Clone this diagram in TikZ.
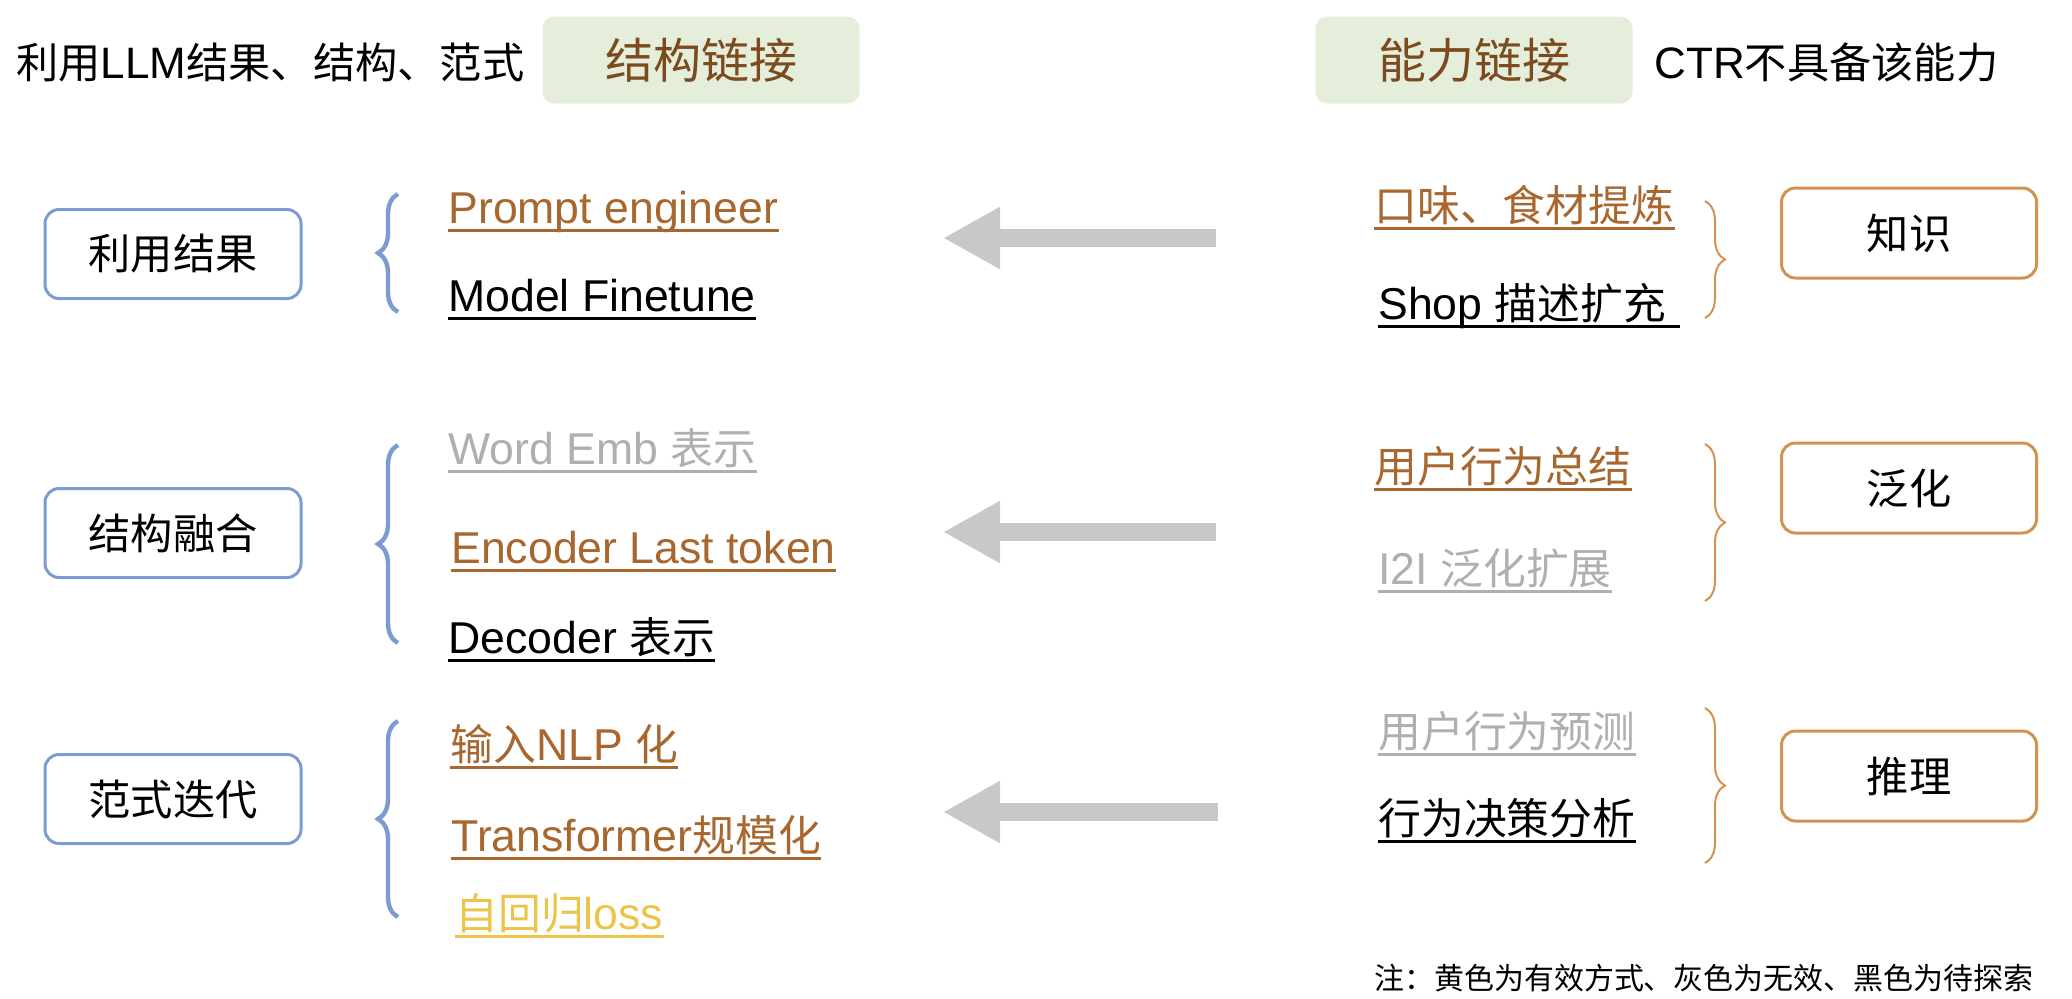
\documentclass[tikz,border=0pt]{standalone}
\usepackage{fontspec}
\setmainfont{Liberation Sans}
\newfontfamily\cjk[Scale=0.96]{Noto Sans CJK SC}
\usepackage{tikz}
\usetikzlibrary{arrows.meta,decorations.pathreplacing}
\usepackage{xcolor}

\definecolor{brn}{HTML}{A8672E}
\definecolor{gry}{HTML}{AFAFAF}
\definecolor{ylw}{HTML}{EAC54A}
\definecolor{blk}{HTML}{000000}
\definecolor{headtext}{HTML}{7B4A1E}
\definecolor{headfill}{HTML}{E5EEDB}
\definecolor{boxblue}{HTML}{7D9BD3}
\definecolor{boxorange}{HTML}{D69152}
\definecolor{arrgray}{HTML}{C9C7C7}

\tikzset{
  grp/.style={draw=boxblue,line width=1.5pt,rounded corners=7pt,minimum width=128pt,minimum height=44.5pt,font=\fontsize{22pt}{26pt}\cjk},
  abl/.style={draw=boxorange,line width=1.5pt,rounded corners=7pt,minimum width=127.5pt,minimum height=45pt,font=\fontsize{22pt}{26pt}\cjk},
  head/.style={fill=headfill,rounded corners=6pt,minimum width=158.5pt,minimum height=43.5pt,text=headtext,font=\fontsize{25pt}{29pt}\cjk},
  item/.style={anchor=base west,inner sep=0pt,font=\fontsize{22.3pt}{26pt}\selectfont},
  uline/.style={line width=1.5pt},
  lbrace/.style={decorate,decoration={brace,amplitude=10pt},draw=boxblue,line width=2.2pt},
  rbrace/.style={decorate,decoration={brace,amplitude=10pt},draw=boxorange,line width=1pt},
  fat/.style={draw=arrgray,line width=9pt,-{Triangle[width=29pt,length=28.5pt]}},
}

\begin{document}
\begin{tikzpicture}[x=0.5pt,y=-0.5pt]
\useasboundingbox (0,0) rectangle (2072,998);

% header
\node[item,font=\fontsize{22pt}{26pt}\selectfont] at (16,78) (t1) {{\cjk 利用}LLM{\cjk 结果、结构、范式}};
\node[head] at (701,60) (h1) {结构链接};
\node[head] at (1474,60) (h2) {能力链接};
\node[item,font=\fontsize{22pt}{26pt}\selectfont] at (1654,78) (t2) {CTR{\cjk 不具备该能力}};

% left groups
\node[grp] at (173,254) (g1) {利用结果};
\node[grp] at (173,533) (g2) {结构融合};
\node[grp] at (173,799) (g3) {范式迭代};

\node[item,brn] at (448,223) (p1) {Prompt engineer};
\node[item,blk] at (448,311) (p2) {Model Finetune};
\node[item,gry] at (448,464) (p3) {Word Emb {\cjk 表示}};
\node[item,brn] at (451,563) (p4) {Encoder Last token};
\node[item,blk] at (448,653) (p5) {Decoder {\cjk 表示}};
\node[item,brn] at (450,760) (p6) {{\cjk 输入}NLP {\cjk 化}};
\node[item,brn] at (451,851) (p7) {Transformer{\cjk 规模化}};
\node[item,ylw] at (455,929) (p8) {{\cjk 自回归}loss};

\draw[lbrace] (398,312) -- (398,194);
\draw[lbrace] (398,643) -- (398,445);
\draw[lbrace] (398,917) -- (398,721);

% right groups
\node[abl] at (1909,233) (c1) {知识};
\node[abl] at (1909,488) (c2) {泛化};
\node[abl] at (1909,776) (c3) {推理};

\node[item,brn] at (1374,221) (q1) {\cjk 口味、食材提炼};
\node[item,blk] at (1378,319) (q2) {Shop {\cjk 描述扩充}\hspace*{.3em}};
\node[item,brn] at (1374,482) (q3) {\cjk 用户行为总结};
\node[item,gry] at (1378,584) (q4) {I2I {\cjk 泛化扩展}};
\node[item,gry] at (1378,747) (q5) {\cjk 用户行为预测};
\node[item,blk] at (1378,834) (q6) {\cjk 行为决策分析};

\draw[rbrace] (1705,201) -- (1705,318);
\draw[rbrace] (1705,444) -- (1705,601);
\draw[rbrace] (1705,708) -- (1705,863);

% underlines
\foreach \n/\c in {p1/brn,p2/blk,p3/gry,p4/brn,p5/blk,p6/brn,p7/brn,p8/ylw,q1/brn,q2/blk,q3/brn,q4/gry,q5/gry,q6/blk}
  \draw[uline,\c] ([yshift=-3.5pt]\n.base west) -- ([yshift=-3.5pt]\n.base east);

% arrows
\coordinate (a1) at (1216,238);
\coordinate (b1) at (943,238);
\coordinate (a2) at (1216,532);
\coordinate (b2) at (943,532);
\coordinate (a3) at (1218,812);
\coordinate (b3) at (943,812);
\draw[fat] (a1) -- (b1);
\draw[fat] (a2) -- (b2);
\draw[fat] (a3) -- (b3);

% note
\node[item,font=\fontsize{15.6pt}{18pt}\cjk] at (1374,989) (n1) {注：黄色为有效方式、灰色为无效、黑色为待探索};
\end{tikzpicture}
\end{document}
